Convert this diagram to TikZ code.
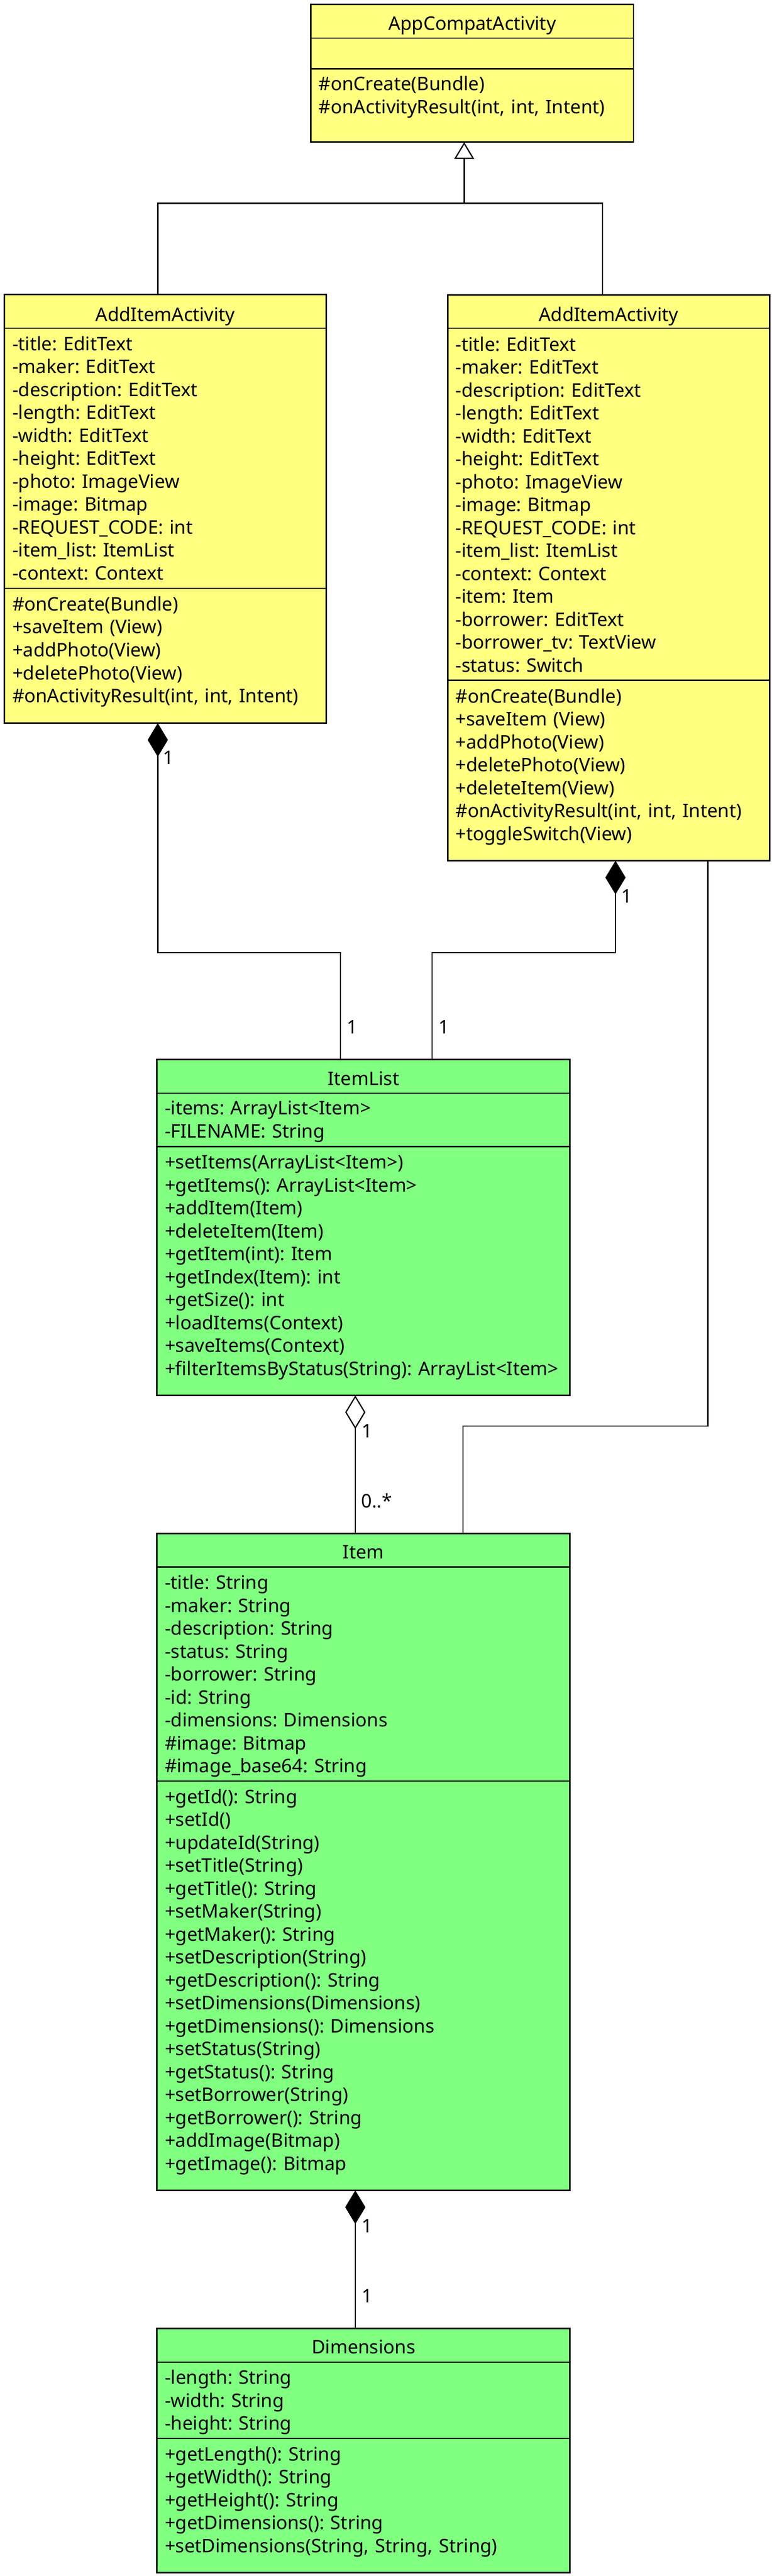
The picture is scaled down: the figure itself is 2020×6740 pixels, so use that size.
\documentclass[tikz,border=0pt]{standalone}
\usepackage{fontspec}
\setmainfont{Noto Sans}
\usetikzlibrary{arrows.meta,calc}
\definecolor{clsyellow}{HTML}{FFFF80}
\definecolor{clsgreen}{HTML}{80FF80}
\newcommand\umlfont{\fontsize{24.5}{30}\selectfont\frenchspacing}
\begin{document}
\begin{tikzpicture}[x=0.5pt,y=-0.5pt,
  cls/.style={draw=black, line width=2pt, anchor=north west, inner sep=0pt, outer sep=0pt},
  sepline/.style={line width=1.5pt},
  ttl/.style={anchor=base, inner sep=0pt, font=\umlfont},
  rows/.style={anchor=base west, inner sep=0pt, align=left, text width=560pt, font=\umlfont},
  conn/.style={line width=1.6pt},
  lbl/.style={anchor=base west, inner sep=0pt, font=\umlfont}]
\fill[white] (0,0) rectangle (2020,6740);
\useasboundingbox (0,0) rectangle (2020,6740);

% ---------- AppCompatActivity ----------
\node[cls, fill=clsyellow, minimum width=422pt, minimum height=180.5pt] (aca) at (814,11) {};
\node[ttl] (aca-t) at ($(aca.north)+(0,68)$) {AppCompatActivity};
\draw[sepline] ($(aca.north west)+(0,88.5)$) -- ($(aca.north east)+(0,88.5)$);
\draw[sepline] ($(aca.north west)+(0,169)$) -- ($(aca.north east)+(0,169)$);
\node[rows] (aca-m) at ($(aca.north west)+(20,226)$) {\#onCreate(Bundle)\\\#onActivityResult(int, int, Intent)};

% ---------- AddItemActivity (left) ----------
\node[cls, fill=clsyellow, minimum width=421pt, minimum height=560.5pt] (la) at (12,771) {};
\node[ttl] (la-t) at ($(la.north)+(0,69)$) {AddItemActivity};
\draw[sepline] ($(la.north west)+(0,88)$) -- ($(la.north east)+(0,88)$);
\node[rows] (la-a) at ($(la.north west)+(20,146)$) {-title: EditText\\-maker: EditText\\-description: EditText\\-length: EditText\\-width: EditText\\-height: EditText\\-photo: ImageView\\-image: Bitmap\\-REQUEST\_CODE: int\\-item\_list: ItemList\\-context: Context};
\draw[sepline] ($(la.north west)+(0,768)$) -- ($(la.north east)+(0,768)$);
\node[rows] (la-m) at ($(la.north west)+(20,827)$) {\#onCreate(Bundle)\\+saveItem (View)\\+addPhoto(View)\\+deletePhoto(View)\\\#onActivityResult(int, int, Intent)};

% ---------- AddItemActivity (right) ----------
\node[cls, fill=clsyellow, minimum width=421pt, minimum height=740pt] (ra) at (1172,772) {};
\node[ttl] (ra-t) at ($(ra.north)+(0,69)$) {AddItemActivity};
\draw[sepline] ($(ra.north west)+(0,87)$) -- ($(ra.north east)+(0,87)$);
\node[rows] (ra-a) at ($(ra.north west)+(20,146)$) {-title: EditText\\-maker: EditText\\-description: EditText\\-length: EditText\\-width: EditText\\-height: EditText\\-photo: ImageView\\-image: Bitmap\\-REQUEST\_CODE: int\\-item\_list: ItemList\\-context: Context\\-item: Item\\-borrower: EditText\\-borrower\_tv: TextView\\-status: Switch};
\draw[sepline] ($(ra.north west)+(0,1008)$) -- ($(ra.north east)+(0,1008)$);
\node[rows] (ra-m) at ($(ra.north west)+(20,1067)$) {\#onCreate(Bundle)\\+saveItem (View)\\+addPhoto(View)\\+deletePhoto(View)\\+deleteItem(View)\\\#onActivityResult(int, int, Intent)\\+toggleSwitch(View)};

% ---------- ItemList ----------
\node[cls, fill=clsgreen, minimum width=540.5pt, minimum height=439.5pt] (il) at (411,2772) {};
\node[ttl] (il-t) at ($(il.north)+(0,67)$) {ItemList};
\draw[sepline] ($(il.north west)+(0,88)$) -- ($(il.north east)+(0,88)$);
\node[rows] (il-a) at ($(il.north west)+(20,145)$) {-items: ArrayList<Item>\\-FILENAME: String};
\draw[sepline] ($(il.north west)+(0,228)$) -- ($(il.north east)+(0,228)$);
\node[rows] (il-m) at ($(il.north west)+(20,286)$) {+setItems(ArrayList<Item>)\\+getItems(): ArrayList<Item>\\+addItem(Item)\\+deleteItem(Item)\\+getItem(int): Item\\+getIndex(Item): int\\+getSize(): int\\+loadItems(Context)\\+saveItems(Context)\\+filterItemsByStatus(String): ArrayList<Item>};

% ---------- Item ----------
\node[cls, fill=clsgreen, minimum width=540.5pt, minimum height=859.5pt] (it) at (411,4012) {};
\node[ttl] (it-t) at ($(it.north)+(0,66)$) {Item};
\draw[sepline] ($(it.north west)+(0,88)$) -- ($(it.north east)+(0,88)$);
\node[rows] (it-a) at ($(it.north west)+(20,146)$) {-title: String\\-maker: String\\-description: String\\-status: String\\-borrower: String\\-id: String\\-dimensions: Dimensions\\\#image: Bitmap\\\#image\_base64: String};
\draw[sepline] ($(it.north west)+(0,648)$) -- ($(it.north east)+(0,648)$);
\node[rows] (it-m) at ($(it.north west)+(20,706)$) {+getId(): String\\+setId()\\+updateId(String)\\+setTitle(String)\\+getTitle(): String\\+setMaker(String)\\+getMaker(): String\\+setDescription(String)\\+getDescription(): String\\+setDimensions(Dimensions)\\+getDimensions(): Dimensions\\+setStatus(String)\\+getStatus(): String\\+setBorrower(String)\\+getBorrower(): String\\+addImage(Bitmap)\\+getImage(): Bitmap};

% ---------- Dimensions ----------
\node[cls, fill=clsgreen, minimum width=540.5pt, minimum height=319.5pt] (dm) at (411,6092) {};
\node[ttl] (dm-t) at ($(dm.north)+(0,66)$) {Dimensions};
\draw[sepline] ($(dm.north west)+(0,88)$) -- ($(dm.north east)+(0,88)$);
\node[rows] (dm-a) at ($(dm.north west)+(20,146)$) {-length: String\\-width: String\\-height: String};
\draw[sepline] ($(dm.north west)+(0,288)$) -- ($(dm.north east)+(0,288)$);
\node[rows] (dm-m) at ($(dm.north west)+(20,346)$) {+getLength(): String\\+getWidth(): String\\+getHeight(): String\\+getDimensions(): String\\+setDimensions(String, String, String)};

% ---------- connectors ----------
\coordinate (gL) at (413,532);
\coordinate (gM) at (1215,532);
\coordinate (gR) at (1577,532);
\draw[conn] (la.north -| gL) -- (gL) -- (gR) -- (ra.north -| gR);
\draw[conn, -{Triangle[open, length=22pt, width=26pt, fill=white]}] (gM) -- (aca.south -| gM);

\coordinate (c1a) at (413,2492);
\coordinate (c1b) at (891,2492);
\draw[conn, {Diamond[length=44pt, width=26.5pt]}-] (la.south -| c1a) -- (c1a) -- (c1b) -- (il.north -| c1b);

\coordinate (c2a) at (1611,2492);
\coordinate (c2b) at (1131,2492);
\draw[conn, {Diamond[length=44pt, width=26.5pt]}-] (ra.south -| c2a) -- (c2a) -- (c2b) -- (il.north -| c2b);

\coordinate (a1) at (1853,3731);
\coordinate (a2) at (1212,3731);
\draw[conn] (ra.south -| a1) -- (a1) -- (a2) -- (it.north -| a2);

\coordinate (ag) at (930,3700);
\draw[conn, {Diamond[open, length=44pt, width=26.5pt, fill=white]}-] (il.south -| ag) -- (it.north -| ag);

\coordinate (cp) at (930,5900);
\draw[conn, {Diamond[length=44pt, width=26.5pt]}-] (it.south -| cp) -- (dm.north -| cp);

% ---------- multiplicities ----------
\node[lbl] (l1) at (426,2000) {1};
\node[lbl] (l2) at (907,2705) {1};
\node[lbl] (l3) at (1626,2362) {1};
\node[lbl] (l4) at (1148,2705) {1};
\node[lbl] (l5) at (947,3761) {1};
\node[lbl] (l6) at (945,3945) {0..*};
\node[lbl] (l7) at (947,5841) {1};
\node[lbl] (l8) at (947,6025) {1};
\end{tikzpicture}
\end{document}
